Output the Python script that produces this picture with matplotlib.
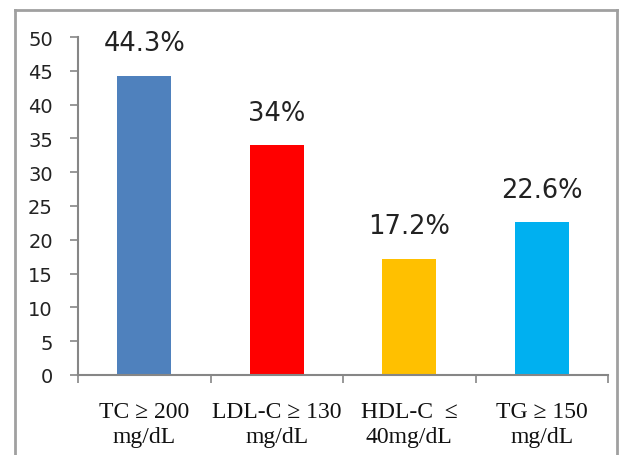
import matplotlib
matplotlib.use("Agg")
import matplotlib.pyplot as plt
from matplotlib.lines import Line2D

categories = ["TC \u2265 200\nmg/dL", "LDL-C \u2265 130\nmg/dL", "HDL-C  \u2264\n40mg/dL", "TG \u2265 150\nmg/dL"]
values = [44.3, 34, 17.2, 22.6]
value_labels = ["44.3%", "34%", "17.2%", "22.6%"]
colors = ["#4F81BD", "#FF0000", "#FFC000", "#00B0F0"]
yticks = [0, 5, 10, 15, 20, 25, 30, 35, 40, 45, 50]

W, H = 620, 456
fig = plt.figure(figsize=(W / 100, H / 100), dpi=100)
ax = fig.add_axes([78 / W, (H - 376) / H, (608 - 78) / W, (376 - 38) / H])

x = list(range(len(values)))
bars = ax.bar(x, values, width=0.41, color=colors, zorder=2)
for xi, v, lab in zip(x, values, value_labels):
    ax.annotate(lab, (xi, v), xytext=(0, 14), textcoords="offset points",
                ha="center", va="bottom", fontsize=18.5, color="#222222",
                family="DejaVu Sans")

ax.set_xlim(-0.5, 3.5)
ax.set_ylim(0, 50)
ax.set_yticks(yticks)
ax.set_yticklabels([str(t) for t in yticks], fontsize=14, family="DejaVu Sans", color="#222222")

ax.set_xticks([i + 0.5 for i in range(-1, 4)])
ax.set_xticklabels([])
ax.set_xticks(x, minor=True)
ax.set_xticklabels(categories, minor=True, fontsize=17, family="Liberation Serif",
                   color="#111111", linespacing=1.25)
ax.tick_params(axis="x", which="minor", length=0, pad=19)
ax.tick_params(axis="x", which="major", length=6, width=1.2, color="#868686", direction="out")
ax.tick_params(axis="y", length=6, width=1.2, color="#868686", direction="out", pad=12)

for s in ["top", "right"]:
    ax.spines[s].set_visible(False)
for s in ["left", "bottom"]:
    ax.spines[s].set_color("#868686")
    ax.spines[s].set_linewidth(1.5)

# outer border frame
bc = "#A0A0A0"
lx, rx, ty = 14.5 / W, 616.5 / W, (H - 10.5) / H
fig.add_artist(Line2D([lx, lx], [-0.01, ty], transform=fig.transFigure, color=bc, lw=2))
fig.add_artist(Line2D([lx, rx], [ty, ty], transform=fig.transFigure, color=bc, lw=2))
fig.add_artist(Line2D([rx, rx], [-0.01, ty], transform=fig.transFigure, color=bc, lw=2))

fig.savefig("out.png", dpi=100)
